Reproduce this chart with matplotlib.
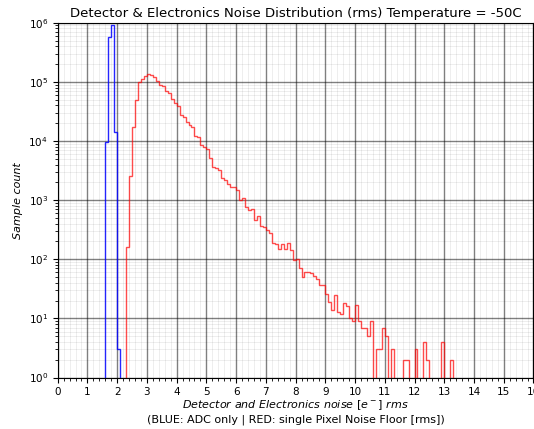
import numpy as np
import matplotlib.pyplot as plt
from matplotlib.ticker import AutoMinorLocator, MultipleLocator, LogLocator

# ADC only histogram (blue), 0.1 e- bins
adc_edges = [1.6, 1.7, 1.8, 1.9, 2.0, 2.1]
adc_counts = [9500, 570000, 910000, 14000, 3]

# single pixel noise floor histogram (red), 0.1 e- bins starting at 2.3
pix_start = 2.3
pix_width = 0.1
pix_counts = [
    160, 2600, 17400, 50000, 100000, 112000, 126000, 135000, 129000, 120000,   # 2.3 - 3.2
    105000, 89000, 85000, 71000, 66000, 52000, 44000, 39000, 27500, 25700,     # 3.3 - 4.2
    20900, 19000, 17000, 12000, 11700, 8500, 7900, 7200, 5100, 3700,           # 4.3 - 5.2
    3550, 3240, 2340, 2190, 1860, 1700, 1660, 1480, 1020, 1070,                # 5.3 - 6.2
    780, 690, 720, 460, 540, 360, 350, 316, 275, 186,                          # 6.3 - 7.2
    182, 148, 182, 148, 186, 145, 98, 100, 71, 50,                             # 7.3 - 8.2
    62, 62, 59, 52, 46, 36, 36, 26, 19, 14,                                    # 8.3 - 9.2
    25, 13, 12, 18, 16, 10, 9, 17, 9, 7,                                       # 9.3 - 10.2
    7, 5, 9, 0, 3, 3, 7, 5, 0, 3,                                              # 10.3 - 11.2
    0, 0, 0, 2, 2, 0, 0, 3, 0, 0,                                              # 11.3 - 12.2
    4, 2, 0, 0, 0, 0, 4, 0, 0, 2,                                              # 12.3 - 13.2
]
pix_edges = np.round(pix_start + pix_width * np.arange(len(pix_counts) + 1), 2)

fig = plt.figure(figsize=(5.34, 4.29), dpi=100)
ax = fig.add_axes([0.108, 0.120, 0.891, 0.827])

ax.stairs(adc_counts, adc_edges, baseline=0, color='blue', lw=1.0, alpha=0.85)
ax.stairs(pix_counts, pix_edges, baseline=0, color='red', lw=1.0, alpha=0.7)

ax.set_yscale('log')
ax.set_ylim(1, 1e6)
ax.set_xlim(0, 16)
ax.xaxis.set_major_locator(MultipleLocator(1))
ax.xaxis.set_minor_locator(AutoMinorLocator(5))
ax.yaxis.set_major_locator(LogLocator(base=10, numticks=10))
ax.yaxis.set_minor_locator(LogLocator(base=10, subs=np.arange(2, 10), numticks=20))

# semi-transparent grids so the minor lines don't break up the major ones
ax.grid(which='major', color='black', alpha=0.5, lw=1.0)
ax.grid(which='minor', color='black', alpha=0.08, lw=0.6)
ax.set_axisbelow(True)
ax.tick_params(labelsize=7.5)

ax.set_title('Detector & Electronics Noise Distribution (rms) Temperature = -50C',
             fontsize=9.5, pad=4)
ax.set_ylabel('Sample count', fontsize=8, style='italic')
ax.set_xlabel(r'$\it{Detector\ and\ Electronics\ noise\ [e^-]\ rms}$' + '\n'
              + '(BLUE: ADC only | RED: single Pixel Noise Floor [rms])',
              fontsize=8, labelpad=1)

plt.savefig('out.png', dpi=100)
